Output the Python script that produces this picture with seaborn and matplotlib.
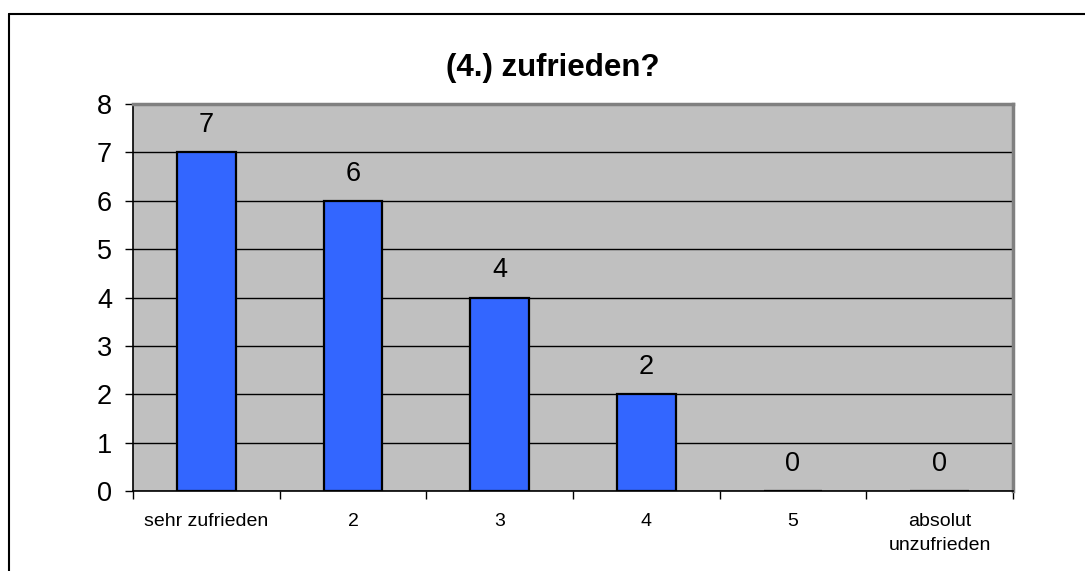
import matplotlib
matplotlib.use("Agg")
import matplotlib.pyplot as plt
import seaborn as sns
import pandas as pd
from matplotlib.lines import Line2D

categories = ["sehr zufrieden", "2", "3", "4", "5", "absolut\nunzufrieden"]
values = [7, 6, 4, 2, 0, 0]
yticks = [0, 1, 2, 3, 4, 5, 6, 7, 8]
title = "(4.) zufrieden?"

sns.set_style("white")
plt.rcParams['font.family'] = ['Liberation Sans', 'DejaVu Sans']
plt.rcParams['text.color'] = 'black'
plt.rcParams['xtick.color'] = 'black'
plt.rcParams['ytick.color'] = 'black'
plt.rcParams['axes.labelcolor'] = 'black'

W, H = 1085, 571
fig = plt.figure(figsize=(W / 100, H / 100), dpi=100)
ax = fig.add_axes([133 / W, 1 - 491 / H, (1013 - 133) / W, (491 - 104) / H])

df = pd.DataFrame({"cat": categories, "val": values})
sns.barplot(data=df, x="cat", y="val", ax=ax, color="#3366FF", saturation=1,
            edgecolor="black", linewidth=1.6, width=0.4)

ax.set_facecolor("#C0C0C0")
ax.set_xlim(-0.5, len(categories) - 0.5)
ax.set_ylim(0, 8)
ax.set_yticks(yticks)
ax.set_yticklabels([str(t) for t in yticks], fontsize=19.5)
ax.yaxis.grid(True, color="black", linewidth=1)
ax.set_axisbelow(True)
ax.set_xlabel("")
ax.set_ylabel("")

ax.set_xticks(range(len(categories)))
ax.set_xticklabels(categories, fontsize=14, linespacing=1.5)
ax.set_xticks([i - 0.5 for i in range(len(categories) + 1)], minor=True)
ax.tick_params(axis="x", which="major", length=0, pad=16)
ax.tick_params(axis="x", which="minor", length=6, width=1, color="black", direction="out", bottom=True)
ax.tick_params(axis="y", length=6, width=1, color="black", direction="out", left=True, pad=9)

for s in ["left", "bottom"]:
    ax.spines[s].set_color("black")
    ax.spines[s].set_linewidth(1.2)
for s in ["top", "right"]:
    ax.spines[s].set_color("#808080")
    ax.spines[s].set_linewidth(2.5)

for i, v in enumerate(values):
    ax.annotate(str(v), (i, v), xytext=(0, 14.5), textcoords="offset points",
                ha="center", va="baseline", fontsize=19.5)

fig.text(553 / W, 1 - 68 / H, title, ha="center", va="center", fontsize=22.5, fontweight="bold")

x0 = 9 / W
y0 = 1 - 14 / H
fig.add_artist(Line2D([x0, x0], [0, y0], transform=fig.transFigure, color="black", linewidth=1.5))
fig.add_artist(Line2D([x0, 1], [y0, y0], transform=fig.transFigure, color="black", linewidth=1.5))

fig.savefig("out.png", dpi=100)
